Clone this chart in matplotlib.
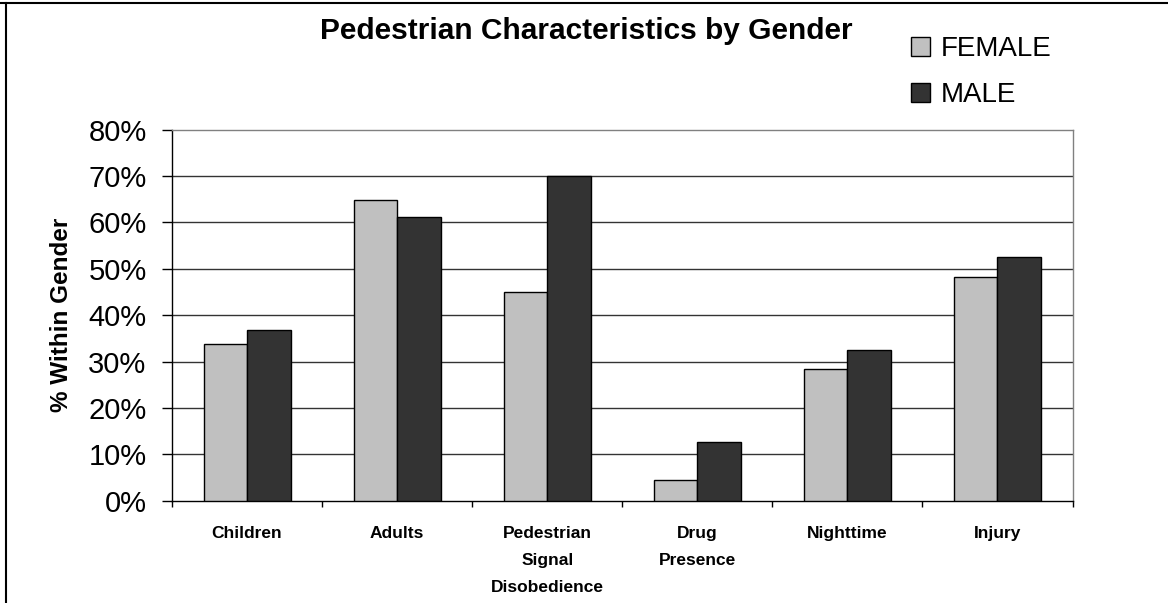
import matplotlib
matplotlib.use("Agg")
import matplotlib.pyplot as plt
from matplotlib.lines import Line2D
import numpy as np

categories = ["Children", "Adults", "Pedestrian\nSignal\nDisobedience", "Drug\nPresence", "Nighttime", "Injury"]
female = [33.7, 64.8, 44.9, 4.5, 28.4, 48.2]
male = [36.9, 61.2, 70.0, 12.7, 32.5, 52.6]
yticks = [0, 10, 20, 30, 40, 50, 60, 70, 80]
ytick_labels = ["0%", "10%", "20%", "30%", "40%", "50%", "60%", "70%", "80%"]
series_names = ["FEMALE", "MALE"]

plt.rcParams['font.family'] = ['Liberation Sans', 'DejaVu Sans']

W, H = 1168, 603
AX_L, AX_R, AX_T, AX_B = 172, 1072.5, 129.7, 500.7
fig = plt.figure(figsize=(W / 100, H / 100), dpi=100)
ax = fig.add_axes([AX_L / W, 1 - AX_B / H, (AX_R - AX_L) / W, (AX_B - AX_T) / H])

x = np.arange(len(categories))
bw = 0.29
b1 = ax.bar(x - bw / 2, female, bw, color="#C0C0C0", edgecolor="black", linewidth=1.0, zorder=3, label=series_names[0])
b2 = ax.bar(x + bw / 2, male, bw, color="#333333", edgecolor="black", linewidth=1.0, zorder=3, label=series_names[1])

ax.set_xlim(-0.5, len(categories) - 0.5)
ax.set_ylim(0, 80)
ax.set_yticks(yticks)
ax.set_yticklabels(ytick_labels, fontsize=21)
for yv in yticks[1:-1]:
    ax.axhline(yv, color="#333333", linewidth=1.0, zorder=1)

ax.set_xticks(x)
ax.set_xticklabels(categories, fontsize=12.5, fontweight="bold", linespacing=2.0, va="top")
ax.set_xticks(np.arange(-0.5, len(categories), 1.0), minor=True)
ax.tick_params(axis="x", which="major", length=0, pad=18)
ax.tick_params(axis="x", which="minor", length=4.5, width=1.0, direction="out", color="black")
ax.tick_params(axis="y", length=7.3, width=1.0, direction="out", color="black", pad=11)

for s in ["left", "bottom"]:
    ax.spines[s].set_color("black")
    ax.spines[s].set_linewidth(1.0)
for s in ["right", "top"]:
    ax.spines[s].set_color("#808080")
    ax.spines[s].set_linewidth(1.0)

ax.set_ylabel("% Within Gender", fontsize=17.5, fontweight="bold")
ax.yaxis.set_label_coords((73 - AX_L) / (AX_R - AX_L), 0.5)

fig.text(586 / W, 1 - 31 / H, "Pedestrian Characteristics by Gender", fontsize=21.5, fontweight="bold",
         ha="center", va="center")

leg = fig.legend(handles=[b1, b2], labels=series_names, loc="upper left",
                 bbox_to_anchor=(911 / W, 1 - 36 / H), frameon=False, fontsize=20,
                 handlelength=0.7, handleheight=0.7, handletextpad=0.36, labelspacing=0.72,
                 borderpad=0, borderaxespad=0)

fig.add_artist(Line2D([0, 1], [1 - 3 / H, 1 - 3 / H], transform=fig.transFigure, color="black", linewidth=1.5))
fig.add_artist(Line2D([6 / W, 6 / W], [0, 1 - 3 / H], transform=fig.transFigure, color="black", linewidth=1.5))

fig.savefig("out.png", dpi=100)
